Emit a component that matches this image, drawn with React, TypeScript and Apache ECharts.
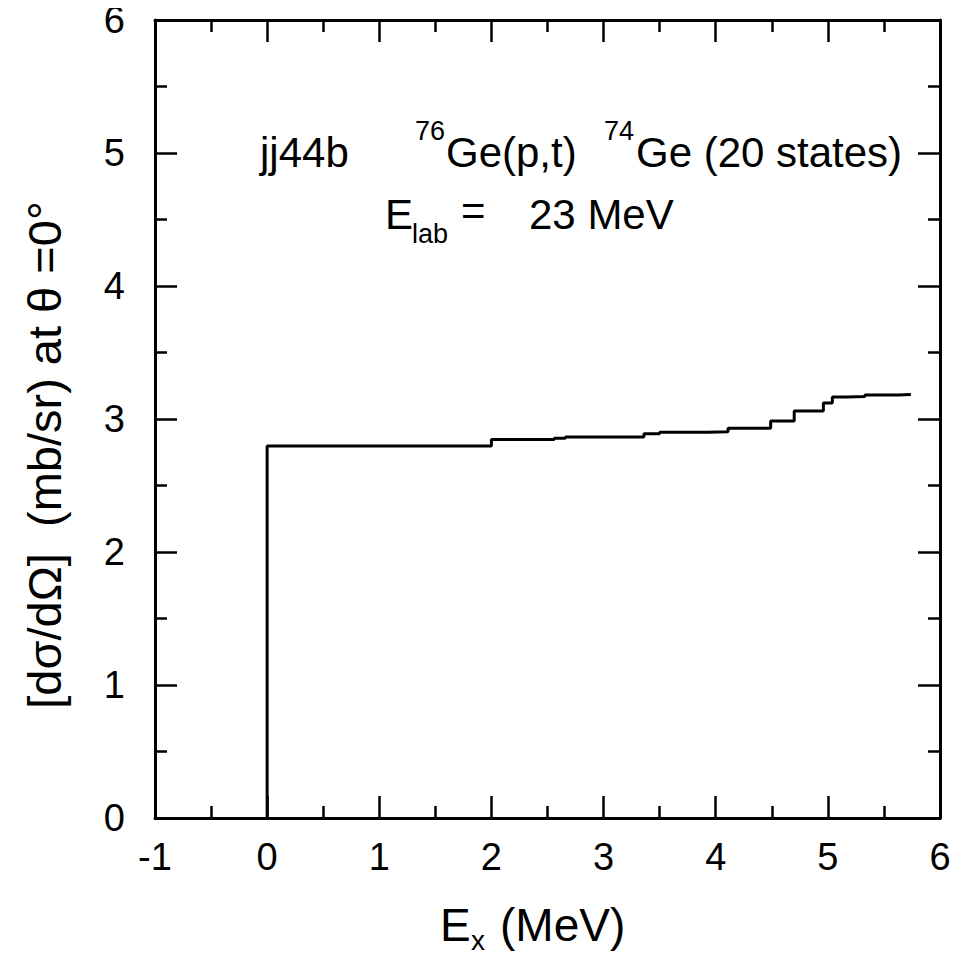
import React, { useEffect, useRef } from "react";
import * as echarts from "echarts";

// Excitation energies (MeV) where the cumulative cross section steps up
const stepEnergies = [0, 0, 2.0, 2.56, 2.66, 3.36, 3.5, 3.93, 4.11, 4.49, 4.7, 4.96, 5.04, 5.17, 5.33, 5.62, 5.74];
// Cumulative cross section (mb/sr) after each step
const cumulativeSigma = [0, 2.797, 2.845, 2.855, 2.865, 2.89, 2.9, 2.905, 2.93, 2.985, 3.06, 3.12, 3.165, 3.17, 3.18, 3.185, 3.185];

const xTicks = { min: -1, max: 6, interval: 1 };
const yTicks = { min: 0, max: 6, interval: 1 };

const FONT = "'Liberation Sans', Arial, Helvetica, sans-serif";

export default function App() {
  const ref = useRef<HTMLDivElement>(null);

  useEffect(() => {
    if (!ref.current) return;
    const chart = echarts.init(ref.current, undefined, { renderer: "svg" });

    const lineStyle = { color: "#000", width: 3 };
    const baseAxis = (extra: any) => ({
      type: "value",
      axisLine: { show: true, onZero: false, lineStyle },
      axisTick: { show: true, inside: true, length: 22, lineStyle: { color: "#000", width: 2.5 } },
      minorTick: { show: true, splitNumber: 2, length: 12, lineStyle: { color: "#000", width: 2.5 } },
      splitLine: { show: false },
      minorSplitLine: { show: false },
      ...extra,
    });

    const tickLabel = { color: "#000", fontSize: 38, fontFamily: FONT };

    const txt = (x: number, y: number, text: string, size: number, extra: any = {}) => ({
      type: "text",
      x,
      y,
      style: {
        text,
        fontSize: size,
        fontFamily: FONT,
        fill: "#000",
        align: "left",
        verticalAlign: "middle",
        ...extra,
      },
    });

    const data = stepEnergies.map((e, i) => [e, cumulativeSigma[i]]);

    chart.setOption({
      animation: false,
      backgroundColor: "#fff",
      grid: { left: 155, right: 25, top: 20, bottom: 143, containLabel: false },
      xAxis: [
        baseAxis({
          ...xTicks,
          position: "bottom",
          axisLabel: { ...tickLabel, margin: 20 },
        }),
        baseAxis({
          ...xTicks,
          position: "top",
          axisLabel: { show: false },
        }),
      ],
      yAxis: [
        baseAxis({
          ...yTicks,
          position: "left",
          axisLabel: { ...tickLabel, margin: 30 },
        }),
        baseAxis({
          ...yTicks,
          position: "right",
          axisLabel: { show: false },
        }),
      ],
      series: [
        {
          type: "line",
          xAxisIndex: 0,
          yAxisIndex: 0,
          step: "end",
          showSymbol: false,
          symbol: "none",
          lineStyle: { color: "#000", width: 3 },
          data,
        },
      ],
      graphic: [
        txt(260, 152, "jj44b", 42),
        txt(415, 131, "76", 27),
        txt(446, 152, "Ge(p,t)", 42),
        txt(604, 131, "74", 27),
        txt(636, 152, "Ge (20 states)", 42),
        txt(385, 214, "E", 42),
        txt(412, 234, "lab", 27),
        txt(461, 210, "=", 42),
        txt(529, 214, "23 MeV", 42),
        txt(440, 925, "E", 46),
        txt(471, 940, "x", 28),
        txt(500, 925, "(MeV)", 46),
        {
          type: "text",
          x: 44,
          y: 455,
          rotation: Math.PI / 2,
          style: {
            text: "[dσ/dΩ]  (mb/sr) at θ =0°",
            fontSize: 47,
            fontFamily: FONT,
            fill: "#000",
            align: "center",
            verticalAlign: "middle",
          },
        },
      ],
    });

    return () => chart.dispose();
  }, []);

  return <div ref={ref} style={{ width: 965, height: 961, margin: -8 }} />;
}
